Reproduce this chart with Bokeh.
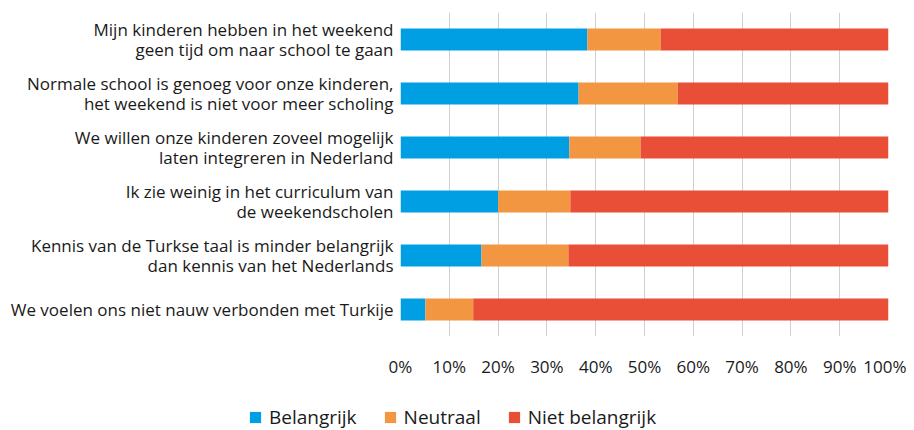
from bokeh.plotting import figure
from bokeh.layouts import column
from bokeh.models import FactorRange, FixedTicker, PrintfTickFormatter, Legend, LegendItem, ColumnDataSource
from bokeh.embed import file_html
from bokeh.resources import INLINE

categories = [
    "Mijn kinderen hebben in het weekend\ngeen tijd om naar school te gaan",
    "Normale school is genoeg voor onze kinderen,\nhet weekend is niet voor meer scholing",
    "We willen onze kinderen zoveel mogelijk\nlaten integreren in Nederland",
    "Ik zie weinig in het curriculum van\nde weekendscholen",
    "Kennis van de Turkse taal is minder belangrijk\ndan kennis van het Nederlands",
    "We voelen ons niet nauw verbonden met Turkije",
]
belangrijk = [38.3, 36.5, 34.6, 20.0, 16.6, 5.1]
neutraal = [15.0, 20.3, 14.6, 14.8, 17.8, 9.8]
niet_belangrijk = [100 - b - n for b, n in zip(belangrijk, neutraal)]
series = ["Belangrijk", "Neutraal", "Niet belangrijk"]
colors = ["#009FE3", "#F39641", "#E94F37"]
x_ticks = list(range(0, 101, 10))

FONT = "Open Sans"
TXT = "#1a1a1a"

src = ColumnDataSource(dict(cat=categories, Belangrijk=belangrijk, Neutraal=neutraal,
                            **{"Niet belangrijk": niet_belangrijk}))

# main chart
p = figure(frame_width=488, frame_height=324, y_range=FactorRange(factors=categories[::-1]),
           x_range=(0, 100), output_backend="svg", toolbar_location=None,
           min_border_left=400, min_border_right=18, min_border_top=12,
           min_border_bottom=46)
p.outline_line_color = None

p.hbar_stack(series, y="cat", height=0.41, color=colors, source=src, line_width=0)

p.xaxis.ticker = FixedTicker(ticks=x_ticks)
p.xaxis.formatter = PrintfTickFormatter(format="%d%%")
for ax in (p.xaxis[0], p.yaxis[0]):
    ax.axis_line_color = None
    ax.major_tick_line_color = None
    ax.minor_tick_line_color = None
    ax.major_tick_out = 0
    ax.major_tick_in = 0
    ax.minor_tick_out = 0
    ax.major_label_text_font = FONT
    ax.major_label_text_font_size = "17px"
    ax.major_label_text_color = TXT
p.yaxis.major_label_text_line_height = 0.87
p.xaxis.major_label_standoff = 18
p.yaxis.major_label_standoff = 7

p.ygrid.grid_line_color = None
p.xgrid.grid_line_color = "#d0d0d0"
p.xgrid.grid_line_width = 1
p.xgrid.ticker = FixedTicker(ticks=x_ticks)

# legend strip below the chart, with a frame spanning the full width
lf = figure(width=906, height=48, y_range=FactorRange(factors=categories[::-1]),
            x_range=(0, 100), output_backend="svg", toolbar_location=None,
            x_axis_location=None, y_axis_location=None,
            min_border=0, min_border_left=0, min_border_right=0,
            min_border_top=0, min_border_bottom=0)
lf.outline_line_color = None
lf.grid.grid_line_color = None
lrs = lf.hbar_stack(series, y="cat", height=0.41, color=colors, source=src, line_width=0)
for r in lrs:
    r.visible = False

for fig in (p, lf):
    try:
        fig.frame_align = False
    except Exception:
        pass

legend = Legend(items=[LegendItem(label=s, renderers=[r]) for s, r in zip(series, lrs)],
                orientation="horizontal", label_text_font=FONT, label_text_font_size="19px",
                label_text_color=TXT, glyph_width=14, glyph_height=14,
                label_standoff=7, spacing=26, border_line_color=None, padding=0,
                margin=0, location=(248, 0), background_fill_alpha=0)
lf.add_layout(legend, "center")

layout = column(p, lf, spacing=0)
open("out.html", "w").write(file_html(layout, INLINE))
